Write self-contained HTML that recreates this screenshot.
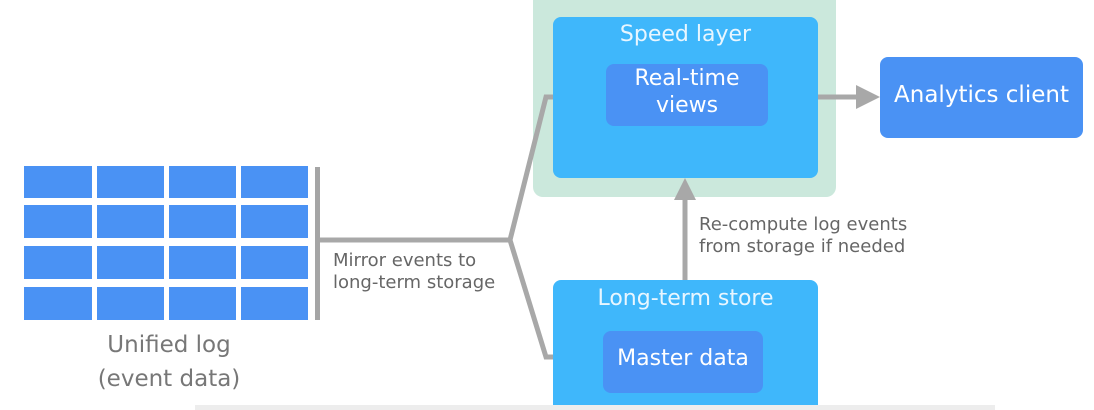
<!DOCTYPE html>
<html><head><style>
body{margin:0;width:1094px;height:410px;background:#fff;overflow:hidden;position:relative;font-family:"Segoe UI","DejaVu Sans","Liberation Sans",sans-serif}
.a{position:absolute}
.t{color:#fff;text-align:center}
</style></head><body>
<svg class="a" style="left:0;top:0" width="1094" height="410">
<g fill="#4a92f4">
<rect x="24" y="166" width="68" height="32"/><rect x="97" y="166" width="67" height="32"/><rect x="169" y="166" width="67" height="32"/><rect x="241" y="166" width="67" height="32"/>
<rect x="24" y="205" width="68" height="33"/><rect x="97" y="205" width="67" height="33"/><rect x="169" y="205" width="67" height="33"/><rect x="241" y="205" width="67" height="33"/>
<rect x="24" y="246" width="68" height="33"/><rect x="97" y="246" width="67" height="33"/><rect x="169" y="246" width="67" height="33"/><rect x="241" y="246" width="67" height="33"/>
<rect x="24" y="287" width="68" height="33"/><rect x="97" y="287" width="67" height="33"/><rect x="169" y="287" width="67" height="33"/><rect x="241" y="287" width="67" height="33"/>
</g>
<rect x="533" y="-10" width="303" height="207" rx="10" fill="#cbe8dc"/>
<rect x="315" y="167" width="5" height="153" fill="#a5a5a5"/>
<g stroke="#a8a8a8" stroke-width="5" fill="none">
<polyline points="320,240 510,240 546,97 556,97"/>
<polyline points="510,240 546,357 556,357"/>
<line x1="685" y1="280" x2="685" y2="195"/>
<line x1="816" y1="97" x2="858" y2="97"/>
</g>
<polygon points="685,178 674,200 696,200" fill="#a8a8a8"/>
<polygon points="880,97 856,85 856,109" fill="#a8a8a8"/>
<rect x="553" y="17" width="265" height="161" rx="8" fill="#3fb7fb"/>
<rect x="606" y="64" width="162" height="62" rx="8" fill="#4a92f4"/>
<rect x="880" y="57" width="203" height="81" rx="8" fill="#4a92f4"/>
<rect x="553" y="280" width="265" height="140" rx="8" fill="#3fb7fb"/>
<rect x="603" y="331" width="160" height="62" rx="8" fill="#4a92f4"/>
<rect x="195" y="405" width="800" height="5" fill="#ededed"/>
</svg>
<div class="a t" style="left:553px;top:22px;width:265px;font-size:22px;color:#e8f6ff">Speed layer</div>
<div class="a t" style="left:606px;top:65px;width:162px;font-size:22px;line-height:27px">Real-time<br>views</div>
<div class="a t" style="left:880px;top:82px;width:203px;font-size:23px">Analytics client</div>
<div class="a t" style="left:553px;top:286px;width:265px;font-size:22px;color:#e8f6ff">Long-term store</div>
<div class="a t" style="left:603px;top:346px;width:160px;font-size:22px">Master data</div>
<div class="a" style="left:333px;top:250px;font-size:18px;line-height:22px;color:#666">Mirror events to<br>long-term storage</div>
<div class="a" style="left:699px;top:214px;font-size:18px;line-height:22px;color:#666">Re-compute log events<br>from storage if needed</div>
<div class="a" style="left:80px;top:328px;width:178px;text-align:center;font-size:23px;line-height:34px;color:#777">Unified log<br>(event data)</div>
</body></html>
